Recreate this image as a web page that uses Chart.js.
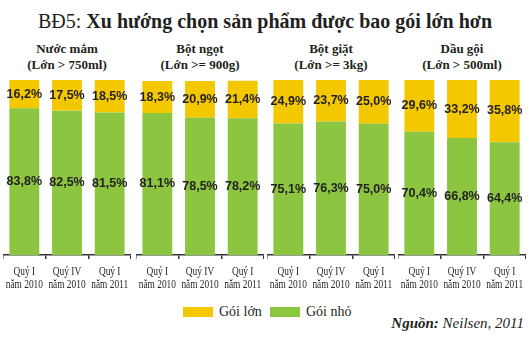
<!DOCTYPE html>
<html>
<head>
<meta charset="utf-8">
<script src="https://cdn.jsdelivr.net/npm/chart.js@4.4.1/dist/chart.umd.min.js"></script>
<style>
  html, body { margin: 0; padding: 0; background: #fff; }
  #wrap { position: relative; width: 530px; height: 352px; overflow: hidden; background: #fff; }
  .title { position: absolute; left: 0; width: 530px; top: 10px; text-align: center;
           font-family: 'Liberation Serif', serif; font-size: 20px; color: #231F20; white-space: nowrap; }
  .title b { font-weight: bold; }
  .glabel { position: absolute; top: 41px; width: 128px; text-align: center;
            font-family: 'Liberation Serif', serif; font-weight: bold; font-size: 13px; line-height: 16px; color: #231F20; }
  .cvbox { position: absolute; top: 75px; width: 128px; height: 225px; }
  .legend { position: absolute; top: 304px; left: 0; width: 530px; height: 18px;
            font-family: 'Liberation Serif', serif; font-size: 14px; color: #231F20; }
  .legend .sw { position: absolute; top: 3px; width: 30px; height: 10px; }
  .legend .tx { position: absolute; top: 0px; white-space: nowrap; }
  .source { position: absolute; right: 6px; top: 315px; font-family: 'Liberation Serif', serif;
            font-style: italic; font-size: 15px; color: #231F20; white-space: nowrap; }
</style>
</head>
<body>
<div id="wrap">
  <div class="title">BĐ5: <b>Xu hướng chọn sản phẩm được bao gói lớn hơn</b></div>
  <div id="labels"></div>
  <div class="cvbox" id="b0"><canvas id="c0" width="128" height="225"></canvas></div>
  <div class="cvbox" id="b1"><canvas id="c1" width="128" height="225"></canvas></div>
  <div class="cvbox" id="b2"><canvas id="c2" width="128" height="225"></canvas></div>
  <div class="cvbox" id="b3"><canvas id="c3" width="128" height="225"></canvas></div>
  <div class="legend">
    <div class="sw" style="left:183px;background:#F3C800"></div>
    <div class="tx" style="left:219px">Gói lớn</div>
    <div class="sw" style="left:270px;background:#8CC540"></div>
    <div class="tx" style="left:306px">Gói nhỏ</div>
  </div>
  <div class="source"><b>Nguồn:</b> Neilsen, 2011</div>
</div>
<script>
// ---- data ----
const groups = ["Nước mắm", "Bột ngọt", "Bột giặt", "Dầu gội"];
const groupSub = ["(Lớn > 750ml)", "(Lớn >= 900g)", "(Lớn >= 3kg)", "(Lớn > 500ml)"];
const periods = [["Quý I", "năm 2010"], ["Quý IV", "năm 2010"], ["Quý I", "năm 2011"]];
const seriesNames = ["Gói nhỏ", "Gói lớn"];
const goiNho = [
  [83.8, 82.5, 81.5],
  [81.1, 78.5, 78.2],
  [75.1, 76.3, 75.0],
  [70.4, 66.8, 64.4]
];
const goiLon = [
  [16.2, 17.5, 18.5],
  [18.3, 20.9, 21.4],
  [24.9, 23.7, 25.0],
  [29.6, 33.2, 35.8]
];

// ---- layout ----
const lefts = [3, 136, 267, 398];
const GREEN = '#8CC540', YELLOW = '#F3C800', TEXT = '#231F20';

const labelsDiv = document.getElementById('labels');
groups.forEach((g, i) => {
  const d = document.createElement('div');
  d.className = 'glabel';
  d.style.left = lefts[i] + 'px';
  d.innerHTML = g + '<br>' + groupSub[i];
  labelsDiv.appendChild(d);
});

const valueLabels = {
  id: 'valueLabels',
  afterDatasetsDraw(chart) {
    const ctx = chart.ctx;
    ctx.save();
    ctx.font = "bold 12.5px 'Liberation Sans Narrow', 'Liberation Sans', sans-serif";
    ctx.fillStyle = TEXT;
    ctx.textAlign = 'center';
    ctx.textBaseline = 'middle';
    chart.data.datasets.forEach((ds, di) => {
      const meta = chart.getDatasetMeta(di);
      meta.data.forEach((el, idx) => {
        const v = ds.data[idx];
        const yc = (el.y + el.base) / 2;
        ctx.fillText(v.toFixed(1).replace('.', ',') + '%', el.x, yc);
      });
    });
    ctx.restore();
  }
};

// condensed serif category labels placed at the x scale's tick positions
const condensedTicks = {
  id: 'condensedTicks',
  afterDraw(chart) {
    const sx = chart.scales.x;
    const ctx = chart.ctx;
    const k = 0.78;
    ctx.save();
    ctx.font = "12px 'Liberation Serif', serif";
    ctx.fillStyle = TEXT;
    ctx.textAlign = 'center';
    ctx.textBaseline = 'middle';
    chart.data.labels.forEach((lbl, i) => {
      const x = sx.getPixelForTick(i);
      const y0 = sx.top + 17;
      lbl.forEach((line, j) => {
        ctx.save();
        ctx.translate(x, y0 + j * 13);
        ctx.scale(k, 1);
        ctx.fillText(line, 0, 0);
        ctx.restore();
      });
    });
    ctx.restore();
  }
};

for (let i = 0; i < 4; i++) {
  document.getElementById('b' + i).style.left = lefts[i] + 'px';
  const cv = document.getElementById('c' + i);
  new Chart(cv, {
    type: 'bar',
    data: {
      labels: periods,
      datasets: [
        { label: seriesNames[0], data: goiNho[i], backgroundColor: GREEN, borderWidth: 0,
          barPercentage: 0.7, categoryPercentage: 1.0 },
        { label: seriesNames[1], data: goiLon[i], backgroundColor: YELLOW, borderWidth: 0,
          barPercentage: 0.7, categoryPercentage: 1.0 }
      ]
    },
    options: {
      responsive: false,
      maintainAspectRatio: false,
      animation: false,
      events: [],
      layout: { padding: { top: 5, left: 0, right: 0, bottom: 0 } },
      plugins: { legend: { display: false }, tooltip: { enabled: false }, title: { display: false } },
      scales: {
        x: {
          stacked: true,
          offset: true,
          afterFit: (s) => { s.height = 45; },
          grid: { drawOnChartArea: false, drawTicks: true, tickLength: 4, color: '#333', offset: true, lineWidth: 1.5 },
          border: { display: true, color: '#333', width: 1.5 },
          ticks: { display: false, autoSkip: false, maxRotation: 0 }
        },
        y: { stacked: true, min: 0, max: 100, display: false }
      }
    },
    plugins: [valueLabels, condensedTicks]
  });
}
</script>
</body>
</html>
